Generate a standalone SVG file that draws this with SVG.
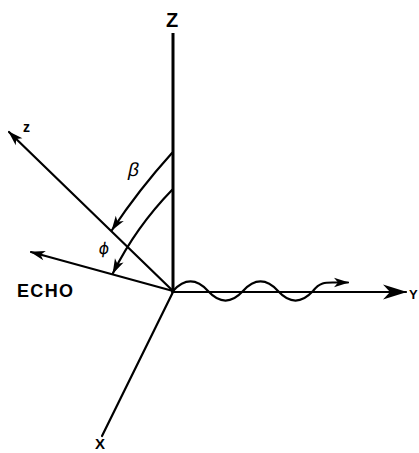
<svg xmlns="http://www.w3.org/2000/svg" width="419" height="453" viewBox="0 0 419 453">
<style>
.ln{fill:none;stroke:#000;stroke-width:2.2;stroke-linecap:round}
.lbl{font-family:"Liberation Sans",Arial,sans-serif;fill:#000;font-weight:bold}
.gr{font-family:"Liberation Sans",Arial,sans-serif;fill:#000}
.gr2{font-family:"DejaVu Sans",sans-serif;fill:#000}
</style>
<defs>
<marker id="ah" markerUnits="userSpaceOnUse" markerWidth="20" markerHeight="12" viewBox="-16 -6 18 12" refX="0" refY="0" orient="auto" overflow="visible">
<path d="M1,0 L-14,-4.8 L-10,0 L-14,4.8 Z" fill="#000"/>
</marker>
<marker id="ahY" markerUnits="userSpaceOnUse" markerWidth="30" markerHeight="18" viewBox="-26 -9 28 18" refX="0" refY="0" orient="auto" overflow="visible">
<path d="M1,0 L-23,-7.5 L-16,0 L-23,7.5 Z" fill="#000"/>
</marker>
</defs>
<rect width="419" height="453" fill="#fff"/>
<g id="connectors">
<line id="axisZ" x1="173" y1="33" x2="173" y2="292" stroke="#000" stroke-width="3"/>
<path id="axisY" class="ln" d="M172,292 L406,292" marker-end="url(#ahY)"/>
<path id="axisX" class="ln" d="M173,292 L102,436"/>
<path id="axisz" class="ln" d="M173,291 L9,132" marker-end="url(#ah)"/>
<path id="echo" class="ln" d="M173,291 L31,252" marker-end="url(#ah)"/>
<path id="beta-arc" class="ln" d="M172,153 Q139,189.5 112,230" marker-end="url(#ah)"/>
<path id="phi-arc" class="ln" d="M172,190 Q136,227 113,273" marker-end="url(#ah)"/>
<path id="wave" class="ln" d="M173,291 C184.7,278.3 196.3,278.3 208,291 C219.7,303.7 231.3,303.7 243,291 C254.7,278.3 266.3,278.3 278,291 C289.7,303.7 301.3,303.7 313,291 C320,282 326,282.5 334,282.5 L348,282.5" marker-end="url(#ah)"/>
</g>
<g id="label-Z"><text class="lbl" x="166" y="27" font-size="20">Z</text></g>
<g id="label-z"><text class="lbl" x="23" y="132" font-size="14">z</text></g>
<g id="label-Y"><text class="lbl" x="409" y="299" font-size="13">Y</text></g>
<g id="label-X"><text class="lbl" x="95" y="449" font-size="15">X</text></g>
<g id="label-echo"><text class="lbl" x="17" y="297" font-size="18" textLength="56" lengthAdjust="spacing">ECHO</text></g>
<g id="label-beta"><text class="gr" font-size="19" transform="translate(127,176) skewX(-12)">β</text></g>
<g id="label-phi"><text class="gr2" font-size="16" transform="translate(98,254) skewX(-8)">ϕ</text></g>
</svg>
